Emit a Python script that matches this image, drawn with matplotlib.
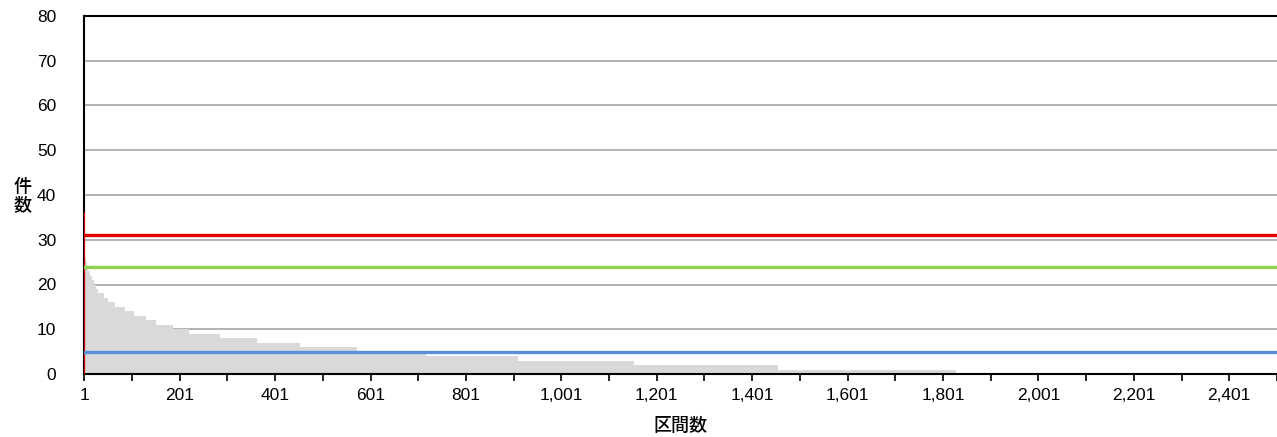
import numpy as np
import matplotlib
matplotlib.use("Agg")
import matplotlib.pyplot as plt

# ---- data ----
n_categories = 2470
first_value = 36                      # highlighted first bar (red)
step_levels = [28, 27, 26, 25, 24, 23, 22, 21, 20, 19, 18, 17, 16, 15, 14, 13,
               12, 11, 10, 9, 8, 7, 6, 5, 4, 3, 2, 1, 0]
step_lengths = [1, 1, 1, 2, 2, 4, 4, 5, 4, 5, 11, 10, 15, 19, 19, 25,
                21, 37, 34, 65, 77, 90, 120, 144, 193, 243, 301, 373, 643]
red_line = 31
green_line = 24
blue_line = 5
x_tick_labels = ["1", "201", "401", "601", "801", "1,001", "1,201", "1,401",
                 "1,601", "1,801", "2,001", "2,201", "2,401"]
y_ticks = [0, 10, 20, 30, 40, 50, 60, 70, 80]

values = np.concatenate([[first_value], np.repeat(step_levels, step_lengths)])
values = values[:n_categories]
idx = np.arange(1, len(values) + 1)

plt.rcParams['font.family'] = ['Liberation Sans', 'Noto Sans CJK JP', 'DejaVu Sans']

fig = plt.figure(figsize=(12.77, 4.37), dpi=100)
ax = fig.add_axes([84 / 1277, 1 - 374 / 437, 1 - 84 / 1277, (374 - 16) / 437])

ax.bar(idx[1:], values[1:], width=1.0, color='#D9D9D9', linewidth=0, zorder=2)
ax.bar(idx[:1], values[:1], width=1.0, color='#E00000', linewidth=1.6,
       edgecolor='#E00000', zorder=3)

ax.axhline(red_line, color='#E00000', lw=2.4, zorder=4)
ax.axhline(green_line, color='#92D050', lw=2.4, zorder=4)
ax.axhline(blue_line, color='#5B8FD6', lw=2.4, zorder=4)

ax.set_xlim(0.5, n_categories + 0.5)
ax.set_ylim(0, 80)
ax.set_yticks(y_ticks)
ax.yaxis.grid(True, color='#A6A6A6', lw=1.2, zorder=1)
ax.set_axisbelow(True)
ax.tick_params(axis='y', length=0, pad=20, labelsize=12.5)

major = [1 + 200 * i for i in range(len(x_tick_labels))]
minor = [101 + 200 * i for i in range(len(x_tick_labels))]
ax.set_xticks(major)
ax.set_xticklabels(x_tick_labels)
ax.set_xticks(minor, minor=True)
ax.tick_params(axis='x', which='both', direction='out', length=5, width=1.2,
               color='black', labelsize=12.5, pad=5)

for s in ['left', 'bottom', 'top']:
    ax.spines[s].set_color('black')
    ax.spines[s].set_linewidth(1.5)
ax.spines['right'].set_visible(False)

cjk = ['Noto Sans CJK JP', 'DejaVu Sans']
fig.text(22 / 1277, 1 - 196 / 437, "件\n数", family=cjk, fontsize=13,
         fontweight='medium', ha='center', va='center', linespacing=1.05)
fig.text(680 / 1277, 1 - 426 / 437, "区間数", family=cjk, fontsize=13,
         fontweight='medium', ha='center', va='center')

fig.savefig("out.png", dpi=100, facecolor='white')
